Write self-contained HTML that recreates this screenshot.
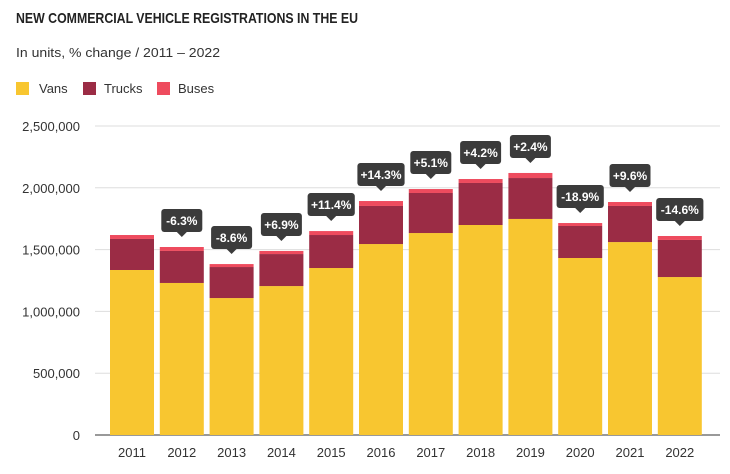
<!DOCTYPE html>
<html><head><meta charset="utf-8"><style>
body{margin:0;background:#fff;font-family:"Liberation Sans",sans-serif;}
svg{display:block}
</style></head><body>
<svg id="chart" width="730" height="474">
<text x="16" y="23" font-size="15" font-weight="bold" fill="#222" textLength="342" lengthAdjust="spacingAndGlyphs">NEW COMMERCIAL VEHICLE REGISTRATIONS IN THE EU</text>
<text x="16" y="57" font-size="13" fill="#333" textLength="204" lengthAdjust="spacingAndGlyphs">In units, % change / 2011 – 2022</text>
<g>
<g><rect x="16" y="82" width="13" height="13" fill="#F8C630"/><text x="39" y="93" font-size="13" fill="#333">Vans</text></g>
<g><rect x="83" y="82" width="13" height="13" fill="#9B2C45"/><text x="104" y="93" font-size="13" fill="#333">Trucks</text></g>
<g><rect x="157" y="82" width="13" height="13" fill="#EE4B5E"/><text x="178" y="93" font-size="13" fill="#333">Buses</text></g>
</g>
<g id="grid"></g><g id="bars"></g><g id="labels"></g>
</svg>
<script>
const categories=["2011","2012","2013","2014","2015","2016","2017","2018","2019","2020","2021","2022"];
const vans=[1335000,1230000,1108000,1205000,1351000,1545000,1634000,1699000,1748000,1432000,1561000,1278000];
const trucks=[251000,259000,251000,259000,267000,308000,324000,340000,331000,259000,292000,300000];
const buses=[32000,32000,24000,25000,32000,40000,32000,32000,41000,24000,32000,32000];
const changes=["","-6.3%","-8.6%","+6.9%","+11.4%","+14.3%","+5.1%","+4.2%","+2.4%","-18.9%","+9.6%","-14.6%"];
const yTicks=[0,500000,1000000,1500000,2000000,2500000];
const yTickLabels=["0","500,000","1,000,000","1,500,000","2,000,000","2,500,000"];
const NS="http://www.w3.org/2000/svg";
const y0=435,yTop=126,xL=95,xR=720;
const y=v=>y0-(v/2500000)*(y0-yTop);
const step=49.8;
const xc=i=>132+step*i;
const bw=44;
function mk(t,a,p){const e=document.createElementNS(NS,t);for(const k in a)e.setAttribute(k,a[k]);p.appendChild(e);return e;}
const grid=document.getElementById('grid'),bars=document.getElementById('bars'),labels=document.getElementById('labels');
yTicks.forEach((v,i)=>{
  const l=mk('line',{x1:xL,x2:xR,y1:y(v),y2:y(v),stroke:i==0?'#333':'#ddd','stroke-width':1},grid);
  
  
  const t=mk('text',{x:80,y:y(v)+5,'text-anchor':'end','font-size':13,fill:'#333'},grid);
  t.textContent=yTickLabels[i];
  
  
});
categories.forEach((c,i)=>{
  const x=xc(i)-bw/2;
  const segs=[[0,vans[i],'#F8C630','bar-vans'],[vans[i],vans[i]+trucks[i],'#9B2C45','bar-trucks'],[vans[i]+trucks[i],vans[i]+trucks[i]+buses[i],'#EE4B5E','bar-buses']];
  segs.forEach(s=>{
    const r=mk('rect',{x:x,y:y(s[1]),width:bw,height:y(s[0])-y(s[1]),fill:s[2]},bars);
    
    
  });
  const t=mk('text',{x:xc(i),y:457,'text-anchor':'middle','font-size':13,fill:'#333'},bars);
  t.textContent=c;
  
  
  if(changes[i]){
    const top=y(vans[i]+trucks[i]+buses[i]);
    const tip=top-10,bb=tip-5,bt=bb-23;
    const w=changes[i].length*6.2+10;
    const g=mk('g',{},labels);
    
    
    mk('rect',{x:xc(i)-w/2,y:bt,width:w,height:23,rx:3,fill:'#3b3b3b'},g);
    mk('path',{d:`M${xc(i)-5},${bb} L${xc(i)+5},${bb} L${xc(i)},${tip} Z`,fill:'#3b3b3b'},g);
    const tt=mk('text',{x:xc(i),y:bt+16,'text-anchor':'middle','font-size':12,'font-weight':'bold',fill:'#fff'},g);
    tt.textContent=changes[i];
  }
});
</script>
</body></html>
